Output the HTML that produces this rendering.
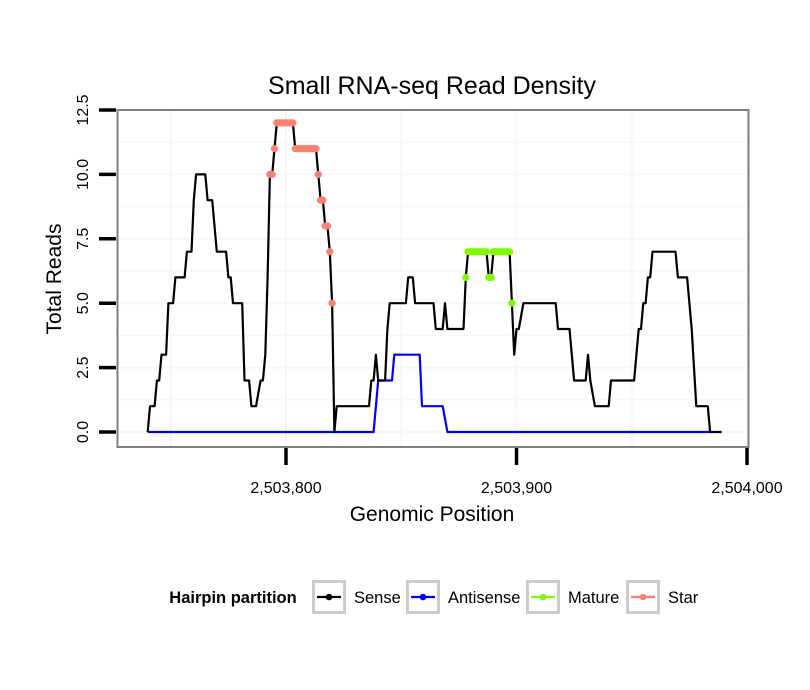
<!DOCTYPE html>
<html><head><meta charset="utf-8"><style>
body{margin:0;background:#fff;}
svg{display:block;font-family:"Liberation Sans",sans-serif;}
</style></head><body>
<svg id="chart" width="810" height="690" viewBox="0 0 810 690" xmlns="http://www.w3.org/2000/svg">
<rect width="810" height="690" fill="#fff"/>
<text x="432" y="94" font-size="25" text-anchor="middle">Small RNA-seq Read Density</text>
<g id="grid"></g>
<g id="series"></g>
<rect x="117.5" y="110" width="631" height="337" fill="none" stroke="#7f7f7f" stroke-width="2"/>
<g id="axes"></g>
<text x="432" y="521" font-size="21" text-anchor="middle">Genomic Position</text>
<text transform="translate(61,279) rotate(-90)" font-size="21" text-anchor="middle">Total Reads</text>
<g id="legend">
<text x="233" y="603" font-size="16.5" font-weight="bold" text-anchor="middle">Hairpin partition</text>
</g>
</svg>
<script>
const sensePos=[740,741,743,744,745,746,748,749,751,752,756,757,759,760,761,765,766,768,770,774,775,776,777,781,782,784,785,787,789,790,791,792,793,794,795,796,803,804,813,814,815,816,817,818,819,820,821,822,836,837,838,839,840,843,844,845,852,853,855,856,864,865,868,869,870,877,878,879,887,888,889,890,897,898,899,900,901,903,917,918,923,925,930,931,932,934,940,941,951,953,954,955,956,957,958,959,969,970,974,976,978,983,984,989];
const senseVal=[0,1,1,2,2,3,3,5,5,6,6,7,7,9,10,10,9,9,7,7,6,6,5,5,2,2,1,1,2,2,3,6,10,10,11,12,12,11,11,10,9,9,8,8,7,5,0,1,1,2,2,3,2,2,4,5,5,6,6,5,5,4,4,5,4,4,6,7,7,6,6,7,7,5,3,4,4,5,5,4,4,2,2,3,2,1,1,2,2,4,4,5,5,6,6,7,7,6,6,4,1,1,0,0];
const antiPos=[740,838,840,846,847,858,859,868,870,984];
const antiVal=[0,0,2,2,3,3,1,1,0,0];
const maturePos=[878,879,880,881,882,883,884,885,886,887,888,889,890,891,892,893,894,895,896,897,898];
const matureVal=[6,7,7,7,7,7,7,7,7,7,6,6,7,7,7,7,7,7,7,7,5];
const starPos=[793,794,795,796,797,798,799,800,801,802,803,804,805,806,807,808,809,810,811,812,813,814,815,816,817,818,819,820];
const starVal=[10,10,11,12,12,12,12,12,12,12,12,11,11,11,11,11,11,11,11,11,11,10,9,9,8,8,7,5];
const xTicks=[2503800,2503900,2504000];
const xTickLabels=["2,503,800","2,503,900","2,504,000"];
const yTicks=[0,2.5,5,7.5,10,12.5];
const yTickLabels=["0.0","2.5","5.0","7.5","10.0","12.5"];
const legendLabels=["Sense","Antisense","Mature","Star"];
const legendColors=["#000000","#0000ff","#7cfc00","#fa8072"];

const NS="http://www.w3.org/2000/svg";
const BASE=2503000;
function xs(p){return 286+(p-2503800)*2.305;}
function ys(v){return 432-v*25.76;}
function mk(tag,attrs,parent){const e=document.createElementNS(NS,tag);for(const k in attrs)e.setAttribute(k,attrs[k]);parent.appendChild(e);return e;}
const grid=document.getElementById('grid'),series=document.getElementById('series'),axes=document.getElementById('axes'),legend=document.getElementById('legend');
for(let v=0;v<=13.75;v+=1.25){const y=ys(v);if(y<110)continue;
 const g=mk('line',{x1:118,x2:748,y1:y,y2:y,stroke:'#f7f7f7','stroke-width':v%2.5===0?2:1.5},grid);
 
 }
for(let p=2503750;p<=2504000;p+=50){const x=xs(p);if(x>748)continue;
 const g=mk('line',{x1:x,x2:x,y1:111,y2:446,stroke:'#f7f7f7','stroke-width':2},grid);
 
 }
function path(pos,val,color,name){
 const d=pos.map((p,i)=>(i?'L':'M')+xs(BASE+p).toFixed(1)+','+ys(val[i]).toFixed(1)).join('');
 const e=mk('path',{d:d,fill:'none',stroke:color,'stroke-width':2.2,'stroke-linejoin':'round'},series);
 
 }
function pts(pos,val,color,name){
 pos.forEach((p,i)=>{const c=mk('circle',{cx:xs(BASE+p),cy:ys(val[i]),r:3.6,fill:color},series);
 
 });}
path(antiPos,antiVal,'#0000ff','antisense-line');
path(sensePos,senseVal,'#000000','sense-line');
pts(maturePos,matureVal,'#7cfc00','mature-point');
pts(starPos,starVal,'#fa8072','star-point');
yTicks.forEach((v,i)=>{const y=ys(v);
 const t=mk('line',{x1:99,x2:116,y1:y,y2:y,stroke:'#000','stroke-width':3.5},axes);
 
 
 const l=mk('text',{transform:`translate(88,${y}) rotate(-90)`,'font-size':16,'text-anchor':'middle'},axes);l.textContent=yTickLabels[i];
 
 });
xTicks.forEach((p,i)=>{const x=xs(p);
 const t=mk('line',{x1:x,x2:x,y1:448,y2:465,stroke:'#000','stroke-width':3.5},axes);
 
 
 const l=mk('text',{x:x,y:493,'font-size':16,'text-anchor':'middle'},axes);l.textContent=xTickLabels[i];
 
 });
const lx=[312,406,526,626];
legendLabels.forEach((lab,i)=>{const x=lx[i];
 const g=mk('g',{},legend);
 
 
 mk('rect',{x:x+1.5,y:581.5,width:31,height:31,fill:'#fff',stroke:'#cccccc','stroke-width':3},g);
 mk('line',{x1:x+5,x2:x+29,y1:597,y2:597,stroke:legendColors[i],'stroke-width':2.2},g);
 mk('circle',{cx:x+17,cy:597,r:3.3,fill:legendColors[i]},g);
 const t=mk('text',{x:x+42,y:603,'font-size':16.5},g);t.textContent=lab;});
</script>
</body></html>
